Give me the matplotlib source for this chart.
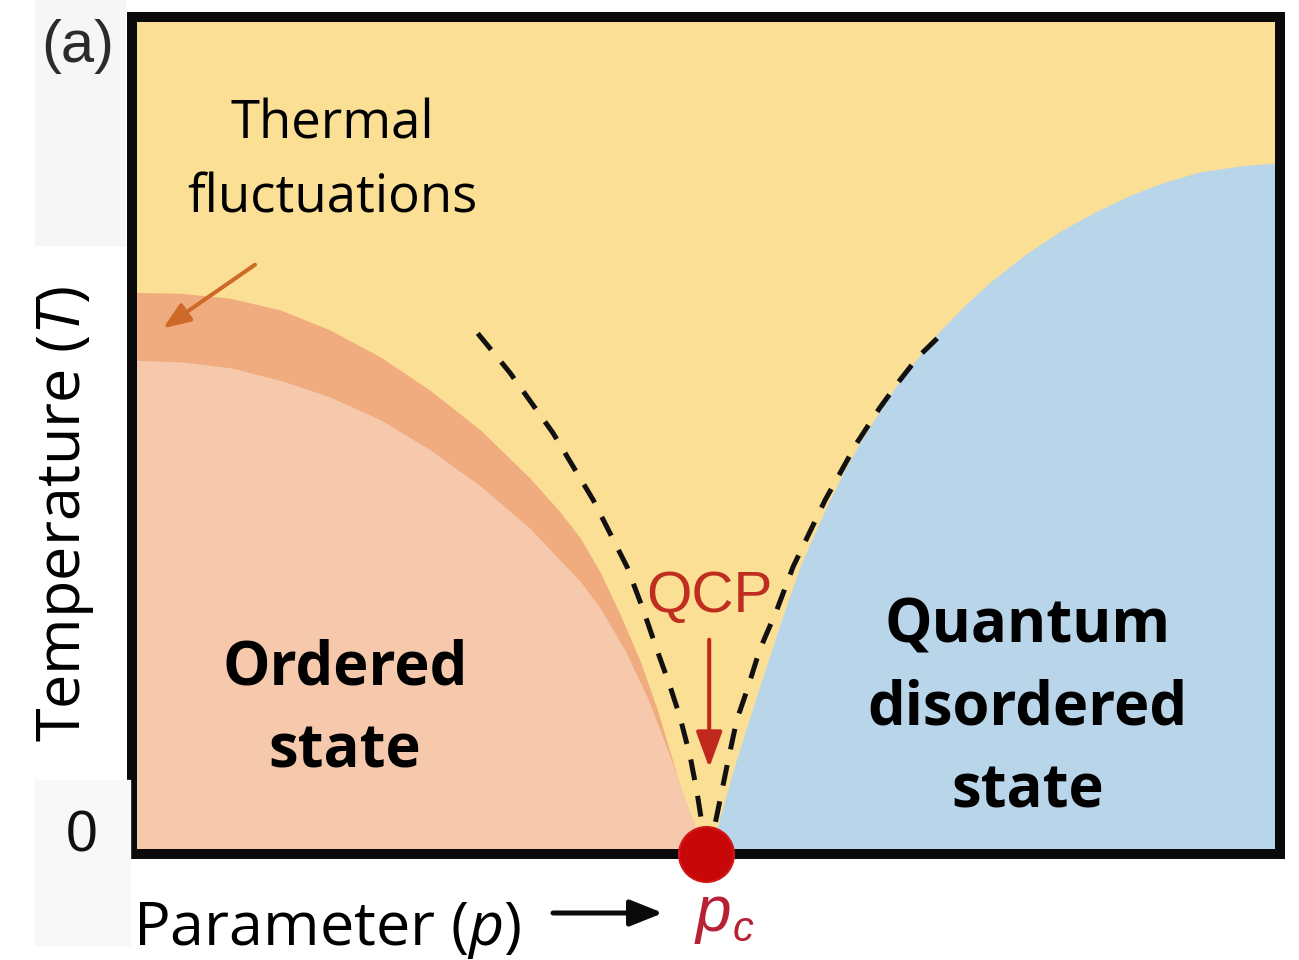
"""Schematic phase diagram around a quantum critical point."""

import matplotlib.pyplot as plt
from matplotlib.patches import Rectangle

plt.rcParams["font.family"] = ["Open Sans", "DejaVu Sans"]
plt.rcParams["mathtext.fontset"] = "custom"
plt.rcParams["mathtext.rm"] = "Open Sans"
plt.rcParams["mathtext.it"] = "Open Sans:italic"

W, H = 1299, 960

# Phase boundaries (p in units where pc = 1, T normalised to the frame)
p_outer = [0.0, 0.084, 0.172, 0.259, 0.346, 0.433, 0.52, 0.607, 0.694, 0.746, 0.781, 0.816,
           0.851, 0.885, 0.915, 0.943, 0.967, 0.99, 1.0]
T_outer = [0.671, 0.67, 0.664, 0.65, 0.626, 0.594, 0.554, 0.507, 0.449, 0.409, 0.378, 0.337,
           0.286, 0.232, 0.174, 0.11, 0.053, 0.019, 0.0]

p_inner = [0.0, 0.084, 0.172, 0.259, 0.346, 0.433, 0.52, 0.607, 0.694, 0.781, 0.816, 0.859,
           0.899, 0.934, 0.964, 1.0]
T_inner = [0.59, 0.588, 0.581, 0.566, 0.546, 0.519, 0.483, 0.44, 0.389, 0.326, 0.294, 0.244,
           0.186, 0.124, 0.066, 0.0]

p_blue = [1.006, 1.02, 1.047, 1.077, 1.103, 1.129, 1.164, 1.19, 1.216, 1.242, 1.269, 1.303,
          1.338, 1.373, 1.408, 1.452, 1.495, 1.556, 1.617, 1.678, 1.739, 1.8, 1.861, 1.93, 2.0]
T_blue = [0.0, 0.032, 0.098, 0.164, 0.219, 0.274, 0.343, 0.384, 0.423, 0.459, 0.492, 0.529,
          0.566, 0.596, 0.625, 0.656, 0.683, 0.716, 0.744, 0.767, 0.787, 0.803, 0.815, 0.822, 0.826]

# Crossover lines (dashed)
p_cross_left = [0.603, 0.659, 0.734, 0.804, 0.863, 0.891, 0.915, 0.938, 0.955, 0.973, 0.985, 0.993]
T_cross_left = [0.622, 0.575, 0.503, 0.423, 0.343, 0.292, 0.244, 0.2, 0.164, 0.116, 0.073, 0.038]
p_cross_right = [1.403, 1.37, 1.338, 1.303, 1.263, 1.208, 1.152, 1.124, 1.094, 1.072, 1.054,
                 1.039, 1.025, 1.016]
T_cross_right = [0.616, 0.594, 0.566, 0.533, 0.491, 0.423, 0.343, 0.292, 0.244, 0.196, 0.16,
                 0.112, 0.065, 0.035]

p_c = 1.0

YELLOW = "#FBDF95"
SALMON = "#F6C9AD"
BAND = "#F0AB7E"
BLUE = "#B9D5EA"
RED = "#C80808"


def fpx(x, y):
    """Image pixel (top-left origin) -> figure fraction."""
    return x / W, 1 - y / H


fig = plt.figure(figsize=(W / 100, H / 100), dpi=100)

# faint grey panels behind the left labels
fig.patches.append(Rectangle(fpx(35, 245), 90 / W, 245 / H, transform=fig.transFigure,
                             color="#F6F6F6", zorder=0))
fig.patches.append(Rectangle(fpx(35, 945), 95 / W, 165 / H, transform=fig.transFigure,
                             color="#F8F8F8", zorder=0))

ax = fig.add_axes([131.5 / W, 106 / H, 1148.5 / W, 837 / H])
ax.set_xlim(0, 2)
ax.set_ylim(0, 1)
ax.set_facecolor(YELLOW)
ax.set_xticks([])
ax.set_yticks([])
for s in ax.spines.values():
    s.set_linewidth(7.2)
    s.set_color("#0a0a0a")
    s.set_zorder(5)

# regions
ax.fill_between(p_outer, 0, T_outer, color=BAND, lw=0, zorder=1)
ax.fill_between(p_inner, 0, T_inner, color=SALMON, lw=0, zorder=2)
ax.fill_between(p_blue, 0, T_blue, color=BLUE, lw=0, zorder=1)

# crossover lines
for px_, py_ in [(p_cross_left, T_cross_left), (p_cross_right, T_cross_right)]:
    ax.plot(px_, py_, color="#111111", lw=3.6, ls=(0, (4.2, 3.2)), zorder=3)

# QCP marker
ax.plot([p_c], [0], "o", ms=39.6, color=RED, mec="#D01818", mew=1.5, clip_on=False, zorder=10)

# labels inside the diagram
ax.text(0.349, 0.855, "Thermal", ha="center", va="baseline", fontsize=38, zorder=6)
ax.text(0.349, 0.767, "fluctuations", ha="center", va="baseline", fontsize=38, zorder=6)
ax.text(0.372, 0.202, "Ordered", ha="center", va="baseline", fontsize=43, fontweight="bold", zorder=6)
ax.text(0.372, 0.103, "state", ha="center", va="baseline", fontsize=43, fontweight="bold", zorder=6)
ax.text(1.561, 0.253, "Quantum", ha="center", va="baseline", fontsize=43, fontweight="bold", zorder=6)
ax.text(1.561, 0.155, "disordered", ha="center", va="baseline", fontsize=43, fontweight="bold", zorder=6)
ax.text(1.561, 0.055, "state", ha="center", va="baseline", fontsize=43, fontweight="bold", zorder=6)
ax.text(1.007, 0.289, "QCP", ha="center", va="baseline", fontsize=42, color="#BE2D1E",
        family="Liberation Sans", zorder=6)

# arrows inside
ax.annotate("", xy=(1.006, 0.103), xytext=(1.006, 0.256),
            arrowprops=dict(arrowstyle="-|>,head_length=1.1,head_width=0.4", mutation_scale=20,
                            lw=2.9, color="#C0281E", shrinkA=0, shrinkB=0), zorder=6)
ax.annotate("", xy=(0.055, 0.628), xytext=(0.215, 0.704),
            arrowprops=dict(arrowstyle="-|>,head_length=0.9,head_width=0.35", mutation_scale=18,
                            lw=2.9, color="#CD6A28", shrinkA=0, shrinkB=0), zorder=6)

# outside labels
fig.text(*fpx(78, 46), "(a)", ha="center", va="center", fontsize=43, color="#2b2b2b",
         family="Liberation Sans")
fig.text(*fpx(82, 836), "0", ha="center", va="center", fontsize=41, color="#111111",
         family="Liberation Sans")
fig.text(*fpx(66, 514), r"Temperature ($T$)", rotation=90, ha="center", va="center", fontsize=44)
fig.text(*fpx(133, 945), r"Parameter ($p$)", ha="left", va="baseline", fontsize=44)
fig.text(*fpx(696, 931), "p", ha="left", va="baseline", fontsize=46, style="italic",
         color="#B82035", family="Liberation Sans")
fig.text(*fpx(733, 941), "c", ha="left", va="baseline", fontsize=30, style="italic",
         color="#B82035", family="Liberation Sans")

# axis direction arrows
ax.annotate("", xy=(83, H - 122), xytext=(83, H - 228), xycoords="figure pixels",
            textcoords="figure pixels",
            arrowprops=dict(arrowstyle="-|>,head_length=1.0,head_width=0.4", mutation_scale=20,
                            lw=3.6, color="#0a0a0a", shrinkA=0, shrinkB=0), annotation_clip=False)
ax.annotate("", xy=(663, H - 913), xytext=(553, H - 913), xycoords="figure pixels",
            textcoords="figure pixels",
            arrowprops=dict(arrowstyle="-|>,head_length=1.0,head_width=0.4", mutation_scale=20,
                            lw=3.6, color="#0a0a0a", shrinkA=0, shrinkB=0), annotation_clip=False)

fig.savefig("out.png", dpi=100)
